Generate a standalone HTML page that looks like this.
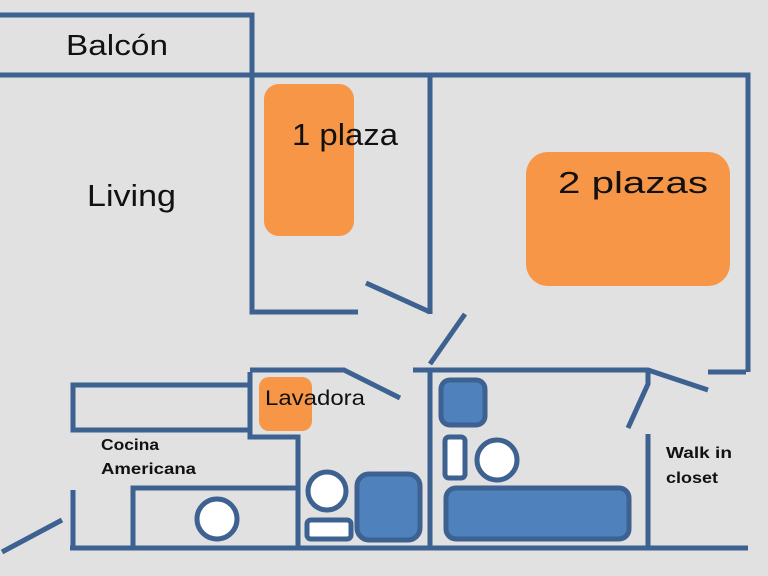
<!DOCTYPE html>
<html><head><meta charset="utf-8"><style>
html,body{margin:0;padding:0;background:#e0e0e0;}
svg{display:block;}
text{font-family:"Liberation Sans",sans-serif;}
</style></head><body>
<svg width="768" height="576" viewBox="0 0 768 576" xmlns="http://www.w3.org/2000/svg">
<rect width="768" height="576" fill="#e1e1e1"/>
<g stroke="#3d6190" stroke-width="5" fill="none" stroke-linecap="butt">
<path d="M0 15H252V75"/>
<path d="M0 75H748V372"/>
<path d="M252 75V312H358"/>
<path d="M430 75V314"/>
<path d="M366 283L430 312"/>
<path d="M430 364L465 314"/>
<path d="M73 385H250V430H73Z"/>
<path d="M250 370H344L400 398"/>
<path d="M250 372V437H298V548"/>
<path d="M413 370H648L708 390"/>
<path d="M708 372H746"/>
<path d="M648 372V384L628 428"/>
<path d="M430 370V548"/>
<path d="M648 434V548"/>
<path d="M70 548H748"/>
<path d="M73 490V548"/>
<path d="M133 548V488H298"/>
<path d="M2 552L62 520"/>
</g>
<rect x="264" y="84" width="90" height="152" rx="15" fill="#f79646"/>
<rect x="526" y="152" width="204" height="134" rx="22" fill="#f79646"/>
<rect x="259" y="377" width="53" height="54" rx="10" fill="#f79646"/>
<g stroke="#3d6190" stroke-width="5">
<circle cx="217" cy="519" r="20" fill="#fff"/>
<circle cx="327" cy="491" r="19" fill="#fff"/>
<rect x="307" y="520" width="44" height="19" rx="4" fill="#fff"/>
<rect x="357" y="474" width="63" height="66" rx="12" fill="#4f81bd"/>
<rect x="441" y="380" width="44" height="45" rx="9" fill="#4f81bd"/>
<rect x="445" y="437" width="20" height="41" rx="4" fill="#fff"/>
<circle cx="497" cy="460" r="20" fill="#fff"/>
<rect x="446" y="488" width="183" height="51" rx="10" fill="#4f81bd"/>
</g>
<g fill="#111" lengthAdjust="spacingAndGlyphs">
<text x="66" y="55" font-size="29" textLength="102" lengthAdjust="spacingAndGlyphs">Balcón</text>
<text x="87" y="206" font-size="31" textLength="89" lengthAdjust="spacingAndGlyphs">Living</text>
<text x="292" y="145" font-size="31" textLength="106" lengthAdjust="spacingAndGlyphs">1 plaza</text>
<text x="558" y="193" font-size="31" textLength="150" lengthAdjust="spacingAndGlyphs">2 plazas</text>
<text x="265" y="405" font-size="21" textLength="100" lengthAdjust="spacingAndGlyphs">Lavadora</text>
<text x="101" y="450" font-size="16" font-weight="bold" textLength="58" lengthAdjust="spacingAndGlyphs">Cocina</text>
<text x="101" y="474" font-size="16" font-weight="bold" textLength="95" lengthAdjust="spacingAndGlyphs">Americana</text>
<text x="666" y="458" font-size="16" font-weight="bold" textLength="66" lengthAdjust="spacingAndGlyphs">Walk in</text>
<text x="666" y="483" font-size="16" font-weight="bold" textLength="52" lengthAdjust="spacingAndGlyphs">closet</text>
</g>
</svg>
</body></html>
